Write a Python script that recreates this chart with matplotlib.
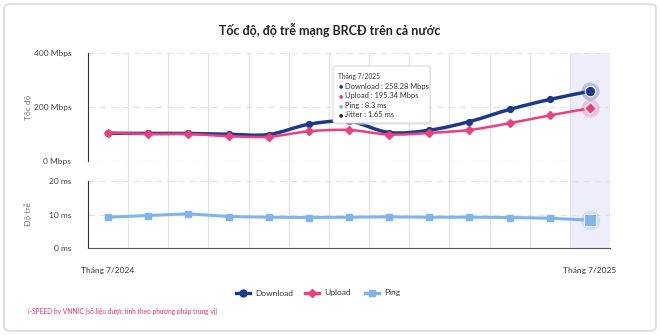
import numpy as np
import matplotlib
matplotlib.use("Agg")
import matplotlib.pyplot as plt
from matplotlib.patches import FancyBboxPatch, PathPatch
from matplotlib.path import Path

plt.rcParams['font.family'] = ['Lato', 'DejaVu Sans']

# data
months = ["Tháng 7/2024", "8/2024", "9/2024", "10/2024", "11/2024", "12/2024", "1/2025",
          "2/2025", "3/2025", "4/2025", "5/2025", "6/2025", "Tháng 7/2025"]
download = [103, 102, 102, 99, 98, 136, 147, 105.5, 114, 146, 191, 228, 258.28]
upload = [105, 100, 100, 92, 90, 110, 115, 98, 104, 115, 140, 169, 195.34]
ping = [9.2, 9.7, 10.2, 9.4, 9.2, 9.1, 9.2, 9.3, 9.2, 9.2, 9.1, 8.9, 8.3]
jitter_last = 1.65

c_down = '#1b3a8c'
c_up = '#ec3f7c'
c_ping = '#7fb4ec'
grid_c = '#e3e3e3'
txt_c = '#444444'

W, H = 660, 335
fig = plt.figure(figsize=(6.6, 3.35), dpi=100)

def fx(px):
    return px / W

def fy(py):
    return 1 - py / H

def spline(ax, xs, ys, **kw):
    # smooth curve through the points (bezier segments, like a spline series)
    xs = np.asarray(xs, float)
    ys = np.asarray(ys, float)
    verts = [(xs[0], ys[0])]
    codes = [Path.MOVETO]
    n = len(xs)
    for i in range(n - 1):
        i0, i3 = max(i - 1, 0), min(i + 2, n - 1)
        c1 = (xs[i] + (xs[i + 1] - xs[i0]) / 6, ys[i] + (ys[i + 1] - ys[i0]) / 6)
        c2 = (xs[i + 1] - (xs[i3] - xs[i]) / 6, ys[i + 1] - (ys[i3] - ys[i]) / 6)
        verts += [c1, c2, (xs[i + 1], ys[i + 1])]
        codes += [Path.CURVE4] * 3
    ax.add_patch(PathPatch(Path(verts, codes), fill=False, capstyle='round',
                           joinstyle='round', **kw))

# card
fig.patches.append(FancyBboxPatch((fx(4), fy(331)), fx(652), 327 / H,
                                  boxstyle="round,pad=0,rounding_size=0.012",
                                  transform=fig.transFigure, fc='white', ec='#dcdcdc', lw=1.2,
                                  zorder=-10))

x = np.arange(len(months))
xl = (-0.5, len(months) - 0.5)
left, right = 88, 610

# background axes for vertical grid and highlight band
bg = fig.add_axes([fx(left), fy(248), fx(right - left), (248 - 53) / H])
bg.set_xlim(xl)
bg.set_ylim(0, 1)
for k in range(1, len(months)):
    bg.axvline(k - 0.5, color=grid_c, lw=0.9)
bg.axvspan(len(months) - 1.5, len(months) - 0.5, color='#eeeefb')
bg.axis('off')

# top axes - speed
ax1 = fig.add_axes([fx(left), fy(161), fx(right - left), (161 - 53) / H])
ax1.patch.set_alpha(0)
ax1.set_xlim(xl)
ax1.set_ylim(0, 400)
ax1.set_yticks([0, 200, 400])
ax1.set_yticklabels(["0 Mbps", "200 Mbps", "400 Mbps"])
ax1.yaxis.grid(True, ls=(0, (5, 4)), color=grid_c, lw=0.9)
ax1.set_xticks([])
for s in ['top', 'right', 'bottom']:
    ax1.spines[s].set_visible(False)
ax1.spines['left'].set_color('#333333')
ax1.tick_params(axis='y', length=0, labelsize=6, colors=txt_c, pad=12)
ax1.set_ylabel("Tốc độ", fontsize=6, color='#777777')

spline(ax1, x, download, ec=c_down, lw=2.5, zorder=3)
ax1.plot(x, download, ls='none', color=c_down, marker='o', ms=4.2, zorder=3)
spline(ax1, x, upload, ec=c_up, lw=1.8, zorder=4)
ax1.plot(x, upload, ls='none', color=c_up, marker='D', ms=3.6, zorder=4)
# hover highlight on last point
ax1.plot(x[-1], download[-1], 'o', ms=13, color=c_down, alpha=0.25, mec='none', zorder=5)
ax1.plot(x[-1], download[-1], 'o', ms=7.5, color=c_down, mec='white', mew=0.8, zorder=6)
ax1.plot(x[-1], upload[-1], 'o', ms=13, color=c_up, alpha=0.25, mec='none', zorder=5)
ax1.plot(x[-1], upload[-1], 'D', ms=6, color=c_up, mec='white', mew=0.8, zorder=6)

# bottom axes - latency
ax2 = fig.add_axes([fx(left), fy(248), fx(right - left), (248 - 181) / H])
ax2.patch.set_alpha(0)
ax2.set_xlim(xl)
ax2.set_ylim(0, 20)
ax2.set_yticks([0, 10, 20])
ax2.set_yticklabels(["0 ms", "10 ms", "20 ms"])
ax2.yaxis.grid(True, ls=(0, (5, 4)), color=grid_c, lw=0.9)
ax2.set_xticks([0, len(months) - 1])
ax2.set_xticklabels([months[0], months[-1]])
for s in ['top', 'right']:
    ax2.spines[s].set_visible(False)
ax2.spines['left'].set_color('#333333')
ax2.spines['bottom'].set_color('#555555')
ax2.tick_params(axis='y', length=0, labelsize=6, colors=txt_c, pad=12)
ax2.tick_params(axis='x', length=0, labelsize=6, colors='#333333', pad=14)
ax2.set_ylabel("Độ trễ", fontsize=6, color='#777777')

ax2.plot(x, ping, color=c_ping, lw=2.2, marker='s', ms=5, zorder=3)
ax2.plot(x[-1], ping[-1], 'o', ms=14, color=c_ping, alpha=0.3, mec='none', zorder=5)
ax2.plot(x[-1], ping[-1], 's', ms=8, color=c_ping, mec='white', mew=0.6, zorder=6)

ax1.yaxis.set_label_coords((32 - left) / (right - left), 0.5)
ax2.yaxis.set_label_coords((32 - left) / (right - left), 0.5)

# title
fig.text(0.5, fy(30), "Tốc độ, độ trễ mạng BRCĐ trên cả nước", ha='center', va='center',
         fontsize=9, fontweight='bold', color='#222222')

# tooltip
fig.patches.append(FancyBboxPatch((fx(335), fy(125)), fx(96), 58 / H,
                                  boxstyle="round,pad=0,rounding_size=0.006",
                                  transform=fig.transFigure, fc='#dddddd', ec='none',
                                  alpha=0.5, zorder=9))
fig.patches.append(FancyBboxPatch((fx(333), fy(123)), fx(97), 57 / H,
                                  boxstyle="round,pad=0,rounding_size=0.006",
                                  transform=fig.transFigure, fc='white', ec='#cccccc',
                                  lw=0.6, zorder=10))
fig.text(fx(338), fy(76), months[-1], fontsize=4.8, color='#333333', va='center', zorder=11)
tip_rows = [(c_down, f"Download : {download[-1]:.2f} Mbps"),
            (c_up, f"Upload : {upload[-1]:.2f} Mbps"),
            (c_ping, f"Ping : {ping[-1]} ms"),
            ('#222222', f"Jitter : {jitter_last} ms")]
for i, (c, t) in enumerate(tip_rows):
    yy = fy(86 + i * 9.6)
    fig.text(fx(341), yy, "●", fontsize=3.5, color=c, ha='center', va='center', zorder=11,
             family='DejaVu Sans')
    fig.text(fx(345), yy, t, fontsize=5.4, color='#333333', va='center', zorder=11)

# legend
leg_items = [(c_down, 'o', "Download", 243), (c_up, 'D', "Upload", 312), (c_ping, 's', "Ping", 372)]
lg = fig.add_axes([0, fy(300), 1, 14 / H])
lg.set_xlim(0, W)
lg.set_ylim(0, 1)
lg.axis('off')
for c, m, lab, px in leg_items:
    lg.plot([px - 7, px + 7], [0.5, 0.5], color=c, lw=2.4)
    lg.plot([px], [0.5], marker=m, color=c, ms=5 if m != 'D' else 4.2)
    lg.text(px + 12, 0.5, lab, fontsize=6, color='#333333', va='center')

fig.text(fx(28), fy(311), "i-SPEED by VNNIC (số liệu được tính theo phương pháp trung vị)",
         fontsize=4.8, color='#e8336e', va='center')

fig.savefig("out.png", dpi=100)
